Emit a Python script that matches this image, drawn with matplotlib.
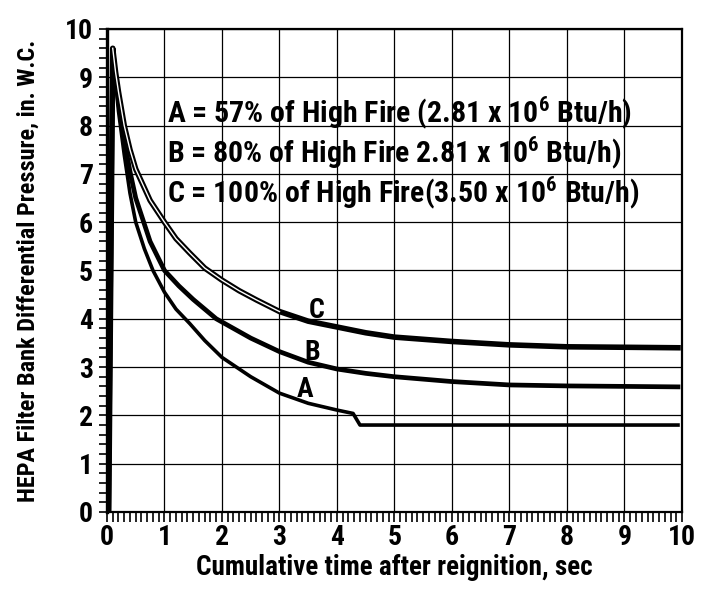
import matplotlib
matplotlib.use("Agg")
import matplotlib.pyplot as plt
from matplotlib.ticker import MultipleLocator

plt.rcParams['font.family'] = ['Roboto Condensed', 'DejaVu Sans']
plt.rcParams['font.weight'] = 'bold'
plt.rcParams['axes.labelweight'] = 'bold'
plt.rcParams['mathtext.fontset'] = 'custom'
plt.rcParams['mathtext.rm'] = 'Roboto Condensed:bold'
plt.rcParams['mathtext.bf'] = 'Roboto Condensed:bold'

# curve A (57% of high fire)
t_a = [0.03, 0.1, 0.15, 0.2, 0.3, 0.4, 0.5, 0.65, 0.8, 1.0, 1.2, 1.44, 1.7, 2.0, 2.5, 3.0, 3.5, 4.0, 4.28, 4.4, 5.0, 6.0, 7.0, 8.0, 9.0, 9.93]
p_a = [0.0, 9.6, 8.9, 8.3, 7.4, 6.6, 6.0, 5.45, 5.0, 4.55, 4.2, 3.9, 3.55, 3.2, 2.8, 2.46, 2.25, 2.11, 2.04, 1.8, 1.8, 1.8, 1.8, 1.8, 1.8, 1.8]

# curve B (80% of high fire)
t_b = [0.03, 0.1, 0.15, 0.2, 0.3, 0.4, 0.5, 0.75, 1.0, 1.25, 1.5, 1.9, 2.5, 3.0, 3.5, 4.0, 4.5, 5.0, 6.0, 7.0, 8.0, 9.0, 9.93]
p_b = [0.0, 9.6, 9.0, 8.5, 7.7, 7.05, 6.5, 5.6, 5.0, 4.68, 4.4, 4.0, 3.6, 3.32, 3.1, 2.96, 2.87, 2.8, 2.7, 2.63, 2.61, 2.6, 2.59]

# curve C (100% of high fire)
t_c = [0.03, 0.1, 0.15, 0.2, 0.3, 0.4, 0.5, 0.75, 1.0, 1.2, 1.44, 1.7, 2.0, 2.3, 2.6, 3.0, 3.5, 4.0, 4.5, 5.0, 6.0, 7.0, 8.0, 9.0, 9.93]
p_c = [0.0, 9.6, 9.1, 8.7, 8.0, 7.5, 7.1, 6.45, 6.0, 5.66, 5.36, 5.05, 4.8, 4.58, 4.39, 4.15, 3.95, 3.83, 3.71, 3.62, 3.53, 3.46, 3.42, 3.41, 3.4]

legend_lines = [
    "A = 57% of High Fire (2.81 x 10$^{6}$ Btu/h)",
    "B = 80% of High Fire 2.81 x 10$^{6}$ Btu/h)",
    "C = 100% of High Fire(3.50 x 10$^{6}$ Btu/h)",
]
legend_y = [8.25, 7.43, 6.6]

fig = plt.figure(figsize=(7.01, 5.91), dpi=100)
ax = fig.add_axes([0.1526, 0.1337, 0.8203, 0.8173])

ax.set_xlim(0, 10)
ax.set_ylim(0, 10)
ax.xaxis.set_major_locator(MultipleLocator(1))
ax.xaxis.set_minor_locator(MultipleLocator(0.1))
ax.yaxis.set_major_locator(MultipleLocator(1))
ax.yaxis.set_minor_locator(MultipleLocator(0.2))
ax.grid(True, which='major', color='black', lw=0.9)
ax.set_axisbelow(True)

ax.tick_params(which='both', direction='out', width=1.2, labelsize=20)
ax.tick_params(axis='x', which='both', length=7, pad=2)
ax.tick_params(axis='y', which='both', length=6, pad=4)
for s in ax.spines.values():
    s.set_linewidth(1.6)
ax.spines['left'].set_linewidth(2.4)

ax.plot(t_a, p_a, color='black', lw=2.6, solid_joinstyle='round')
ax.plot(t_b, p_b, color='black', lw=3.4, solid_joinstyle='round')
ax.plot(t_c, p_c, color='black', lw=4.0, solid_joinstyle='round')
# hollow look of curve C on its steep part
n = 16
ax.plot(t_c[1:n], p_c[1:n], color='white', lw=1.0)

for txt, y in zip(legend_lines, legend_y):
    ax.text(1.04, y, txt, fontsize=21.5, va='center', ha='left')

ax.text(3.65, 4.18, "C", fontsize=20, ha='center', va='center')
ax.text(3.57, 3.3, "B", fontsize=20, ha='center', va='center')
ax.text(3.44, 2.53, "A", fontsize=20, ha='center', va='center')

ax.set_xlabel("Cumulative time after reignition, sec", fontsize=19.5, labelpad=2)
ax.set_ylabel("HEPA Filter Bank Differential Pressure, in. W.C.", fontsize=17.5, labelpad=18)

fig.savefig("out.png", dpi=100)
